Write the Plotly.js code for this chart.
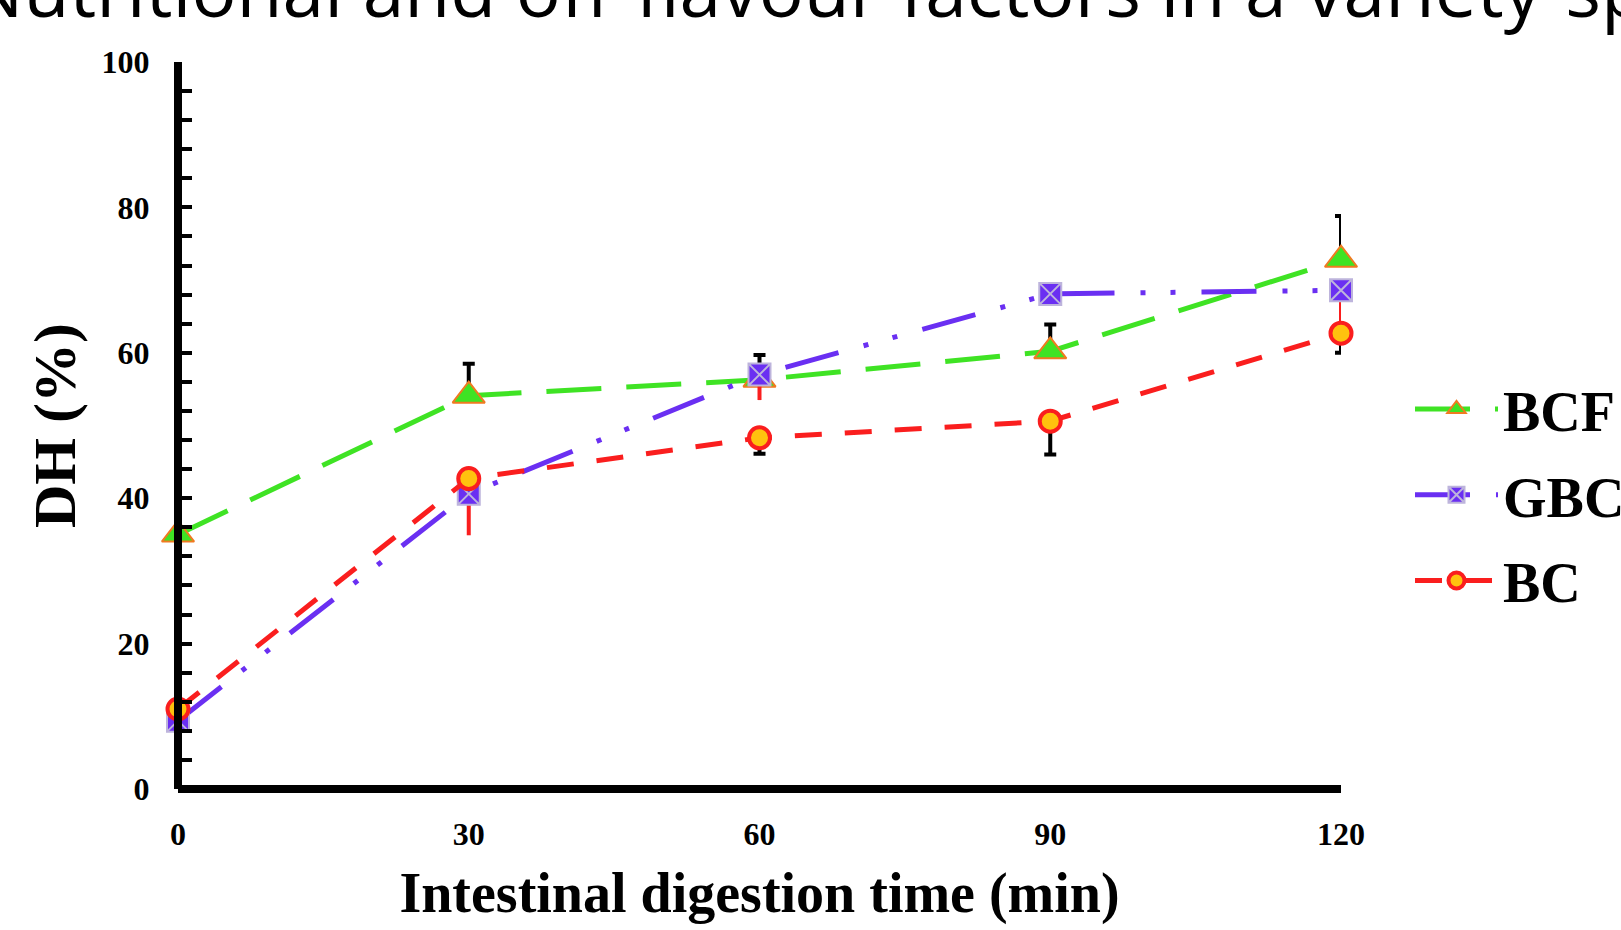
<!DOCTYPE html>
<html>
<head>
<meta charset="utf-8">
<script src="https://cdn.plot.ly/plotly-3.0.1.min.js"></script>
<style>
html,body{margin:0;padding:0;background:#fff;}
#chart{width:1621px;height:930px;}
</style>
</head>
<body>
<div id="chart"></div>
<script>
// Data
const timeMin = [0, 30, 60, 90, 120];
const bcfDH = [35.0, 54.1, 56.3, 60.2, 72.8];
const gbcDH = [9.4, 40.6, 57.0, 68.1, 68.6];
const bcDH  = [11.0, 42.7, 48.3, 50.6, 62.7];
const bcfErrUp   = [0, 4.4, 3.4, 3.7, 6.0];
const gbcErrDown = [0, 5.7, 3.5, 0, 4.5];
const bcErrDown  = [0, 0, 2.2, 4.6, 2.7];
const seriesNames = ["BCF", "GBC", "BC"];
const xTicks = [0, 30, 60, 90, 120];
const yTicks = [0, 20, 40, 60, 80, 100];
const titleText = "Nutritional and off-flavour factors in a variety-specific";
const xTitle = "Intestinal digestion time (min)";
const yTitle = "DH (%)";

const serif = "Liberation Serif, Times New Roman, serif";
const zeros = timeMin.map(() => 0);

const traces = [
  {
    x: timeMin, y: bcfDH, name: seriesNames[0], type: "scatter", mode: "lines+markers",
    legendgroup: "a", cliponaxis: false,
    line: {color: "#3fe324", width: 5, dash: "55px,25px"},
    marker: {symbol: "triangle-up", size: 28, color: "#3fe324", line: {color: "#f07a20", width: 2}},
    error_y: {type: "data", symmetric: false, array: bcfErrUp, arrayminus: zeros, color: "#000", thickness: 4, width: 6}
  },
  {
    x: timeMin, y: gbcDH, name: seriesNames[1], type: "scatter", mode: "lines+markers",
    legendgroup: "b", cliponaxis: false,
    line: {color: "#6a2ff2", width: 5, dash: "55px,26px,5px,25px,5px,26px"},
    marker: {symbol: "square-x", size: 22, color: "#6a2ff2", line: {color: "#bdb4dc", width: 2}},
    error_y: {type: "data", symmetric: false, array: zeros, arrayminus: gbcErrDown, color: "#fa1e1e", thickness: 4, width: 0}
  },
  {
    x: timeMin, y: bcDH, name: seriesNames[2], type: "scatter", mode: "lines+markers",
    legendgroup: "c", cliponaxis: false,
    line: {color: "#fa1e1e", width: 5, dash: "27px,23px"},
    marker: {symbol: "circle", size: 21, color: "#ffc20e", line: {color: "#fa1e1e", width: 4}},
    error_y: {type: "data", symmetric: false, array: zeros, arrayminus: bcErrDown, color: "#000", thickness: 4, width: 6}
  }
];

const L = 178, R = 280, T = 62, B = 141;
const plotW = 1621 - L - R, plotH = 930 - T - B;

const layout = {
  width: 1621, height: 930,
  paper_bgcolor: "#fff", plot_bgcolor: "#fff",
  margin: {l: L, r: R, t: T, b: B, pad: 0, autoexpand: false},
  showlegend: true,
  legend: {
    x: (1410 - L) / plotW, xanchor: "left",
    y: (789 - 495) / plotH, yanchor: "middle",
    font: {family: serif, size: 56, color: "#000", weight: "bold"},
    itemwidth: 83, tracegroupgap: 10, bgcolor: "rgba(0,0,0,0)"
  },
  xaxis: {
    range: [0, 120], tickvals: xTicks, ticktext: xTicks.map(String),
    anchor: "free", position: 0,
    showgrid: false, zeroline: false, showline: true, linecolor: "#000", linewidth: 8,
    ticks: "", ticklabelstandoff: 14,
    tickfont: {family: serif, size: 32, color: "#000", weight: "bold"},
    title: {text: xTitle, font: {family: serif, size: 56, color: "#000", weight: "bold"}, standoff: 20}
  },
  yaxis: {
    range: [0, 100], tickvals: yTicks, ticktext: yTicks.map(String),
    anchor: "free", position: 0,
    showgrid: false, zeroline: false, showline: true, linecolor: "#000", linewidth: 8,
    ticks: "inside", ticklen: 10, tickwidth: 4, tickcolor: "#000",
    minor: {dtick: 4, tick0: 0, ticks: "inside", ticklen: 10, tickwidth: 4, tickcolor: "#000", showgrid: false},
    ticklabelstandoff: 18,
    tickfont: {family: serif, size: 32, color: "#000", weight: "bold"},
    title: {text: yTitle, font: {family: serif, size: 60, color: "#000", weight: "bold"}, standoff: 6}
  },
  annotations: [{
    text: titleText, xref: "paper", yref: "paper", showarrow: false,
    x: (-35 - L) / plotW, xanchor: "left",
    y: (789 - 41) / plotH, yanchor: "bottom",
    font: {family: "Open Sans, sans-serif", size: 75, color: "#000"}
  }]
};

Plotly.newPlot("chart", traces, layout, {displayModeBar: false, staticPlot: true});
</script>
</body>
</html>
